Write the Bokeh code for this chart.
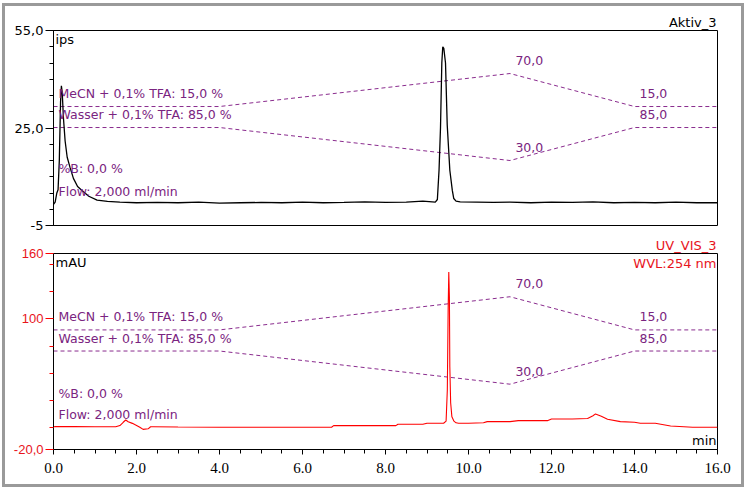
from bokeh.plotting import figure
from bokeh.models import Range1d, FixedTicker, Label, NumeralTickFormatter, Title
from bokeh.layouts import column
from bokeh.embed import file_html
from bokeh.resources import INLINE

# ---------------- data ----------------
# Top trace (Aktiv_3, ips)
t_top = [0.0, 0.04, 0.08, 0.11, 0.14, 0.17, 0.19, 0.21, 0.24, 0.28, 0.33, 0.40, 0.48,
         0.58, 0.70, 0.85, 1.05, 1.3, 1.6, 2.0, 2.5, 3.0, 3.5, 4.0, 4.5, 5.0, 5.5, 6.0,
         6.5, 7.0, 7.5, 8.0, 8.5, 8.9, 9.2, 9.25, 9.29, 9.325, 9.357, 9.38, 9.405, 9.446,
         9.487, 9.55, 9.61, 9.645, 9.70, 9.8, 10.2, 10.6, 11.0, 11.5, 12.0, 12.5, 13.0,
         13.5, 14.0, 14.5, 15.0, 15.5, 16.0]
v_top = [1.5, 2.2, 5.0, 6.0, 15.0, 33.0, 38.0, 36.0, 28.0, 21.0, 16.0, 12.8, 9.5,
         7.0, 5.6, 4.0, 2.8, 2.4, 2.2, 2.0, 2.1, 2.0, 2.2, 1.9, 2.0, 2.1, 2.0, 2.2,
         2.0, 2.1, 2.3, 2.1, 2.2, 2.5, 2.2, 3.0, 12.0, 25.0, 45.0, 50.0, 49.5, 45.0,
         26.0, 12.0, 5.8, 3.3, 2.5, 2.3, 2.2, 2.1, 2.2, 2.0, 2.2, 2.1, 2.3,
         2.0, 2.1, 2.0, 2.2, 2.0, 2.0]

# Bottom trace (UV_VIS_3, mAU)
t_uv = [0.0, 0.05, 0.5, 1.0, 1.5, 1.6, 1.68, 1.74, 1.8, 1.9, 1.98, 2.08, 2.16, 2.28,
        2.34, 2.4, 3.0, 4.0, 4.75, 5.5, 6.7, 6.75, 7.5, 8.25, 8.3, 8.9, 9.0, 9.4, 9.46,
        9.49, 9.51, 9.525, 9.54, 9.55, 9.57, 9.60, 9.65, 9.70, 9.76, 10.0, 10.36, 10.45,
        11.0, 11.2, 11.9, 12.0, 12.5, 12.87, 13.0, 13.06, 13.2, 13.35, 13.66, 14.0,
        14.14, 14.5, 14.87, 15.4, 16.0]
v_uv = [0.9, 1.0, 1.0, 0.9, 0.9, 2.0, 5.0, 7.1, 5.5, 4.0, 2.5, 0.5, -1.5, -1.0,
        0.9, 0.9, 0.6, 0.5, 0.4, 0.4, 0.4, 1.9, 1.9, 1.9, 3.2, 3.2, 4.1, 4.1, 6.0,
        35.0, 110.0, 143.0, 120.0, 56.0, 23.0, 10.0, 6.0, 4.5, 4.1, 4.1, 4.6, 5.6,
        5.6, 6.5, 6.5, 8.0, 8.0, 8.5, 11.0, 12.7, 10.5, 7.8, 5.6, 5.0,
        4.1, 4.1, 1.6, 0.4, 0.4]

# Gradient program (%)
t_grad = [0.0, 4.0, 11.0, 14.0, 16.0]
mecn = [15.0, 15.0, 70.0, 15.0, 15.0]
wasser = [85.0, 85.0, 30.0, 85.0, 85.0]

x_ticks = [0, 2, 4, 6, 8, 10, 12, 14, 16]
x_minor = [i * 0.5 for i in range(33)]
top_ticks = [-5, 25, 55]
top_minor = [-5, 0, 5, 10, 15, 20, 25, 30, 35, 40, 45, 50, 55]
top_labels = {-5: "-5", 25: "25,0", 55: "55,0"}
uv_ticks = [-20, 100, 160]
uv_minor = [0, 25, 50, 75, 125, 150]
uv_labels = {-20: "-20,0", 100: "100", 160: "160"}

PURPLE = "#8a2c8e"
PTEXT = "#7a2480"
RED = "#ff0000"
RTEXT = "#e8141c"
SANS = "DejaVu Sans"
W = 736


def gradient(p, y_texts):
    p.extra_y_ranges = {"mecn": Range1d(-183.3, 141.7), "wasser": Range1d(-78.3, 246.7)}
    p.line(t_grad, mecn, y_range_name="mecn", line_color=PURPLE, line_dash="4 3", line_width=1)
    p.line(t_grad, wasser, y_range_name="wasser", line_color=PURPLE, line_dash="4 3", line_width=1)
    for x, y, rng, txt in [(11.13, 70, "mecn", "70,0"), (11.13, 30, "wasser", "30,0"),
                           (14.12, 15, "mecn", "15,0"), (14.12, 85, "wasser", "85,0")]:
        p.add_layout(Label(x=x, y=y, y_range_name=rng, text=txt, y_offset=13,
                           text_baseline="middle", text_font=SANS, text_font_size="12.5px",
                           text_color=PTEXT))
    texts = ["MeCN + 0,1% TFA: 15,0 %", "Wasser + 0,1% TFA: 85,0 %", "%B: 0,0 %",
             "Flow: 2,000 ml/min"]
    for txt, y in zip(texts, y_texts):
        p.add_layout(Label(x=0.12, y=y, text=txt, text_baseline="middle", text_font=SANS,
                           text_font_size="12.5px", text_color=PTEXT))


def style_common(p):
    p.grid.visible = False
    p.outline_line_color = "black"
    p.outline_line_width = 1
    p.background_fill_color = "white"
    p.border_fill_color = "white"


# ---------------- top panel ----------------
p1 = figure(width=W, height=227, x_range=Range1d(0, 16), y_range=Range1d(-5, 55),
            output_backend="svg", toolbar_location=None, x_axis_location=None,
            title=None,
            min_border_left=48, min_border_right=24, min_border_top=24, min_border_bottom=8)
p1.add_layout(Title(text="Aktiv_3", align="right", text_font=SANS, text_font_size="13px",
                    text_font_style="normal", text_color="black", standoff=2, offset=1),
              "above")
style_common(p1)
ya = p1.yaxis[0]
ya.ticker = FixedTicker(ticks=top_ticks, minor_ticks=top_minor)
ya.major_label_overrides = top_labels
ya.major_tick_out = 8
ya.major_tick_in = 0
ya.minor_tick_out = 4
ya.minor_tick_in = 0
ya.major_label_standoff = 2
ya.major_label_text_font = SANS
ya.major_label_text_font_size = "13px"
ya.major_label_text_color = "black"
ya.axis_line_color = "black"

gradient(p1, [35.6, 29.2, 12.5, 5.5])
p1.line(t_top, v_top, line_color="black", line_width=1.3)

p1.add_layout(Label(x=0, y=55, x_offset=2, y_offset=-1, text="ips", text_align="left",
                    text_baseline="top", text_font=SANS, text_font_size="13px",
                    text_color="black"))

# ---------------- bottom panel ----------------
p2 = figure(width=W, height=251, x_range=p1.x_range, y_range=Range1d(-20, 160),
            output_backend="svg", toolbar_location=None, title=None,
            min_border_left=48, min_border_right=24, min_border_top=20, min_border_bottom=35)
p2.add_layout(Title(text="UV_VIS_3", align="right", text_font=SANS, text_font_size="13px",
                    text_font_style="normal", text_color=RTEXT, standoff=2, offset=1),
              "above")
style_common(p2)
yb = p2.yaxis[0]
yb.ticker = FixedTicker(ticks=uv_ticks, minor_ticks=uv_minor)
yb.major_label_overrides = uv_labels
yb.major_tick_out = 8
yb.major_tick_in = 0
yb.minor_tick_out = 4
yb.minor_tick_in = 0
yb.major_label_standoff = 2
yb.major_label_text_font = "Liberation Sans"
yb.major_label_text_font_size = "13px"
yb.major_label_text_color = RTEXT
yb.major_tick_line_color = RED
yb.minor_tick_line_color = RED
yb.axis_line_color = "black"

xb = p2.xaxis[0]
xb.ticker = FixedTicker(ticks=x_ticks, minor_ticks=x_minor)
xb.formatter = NumeralTickFormatter(format="0.0")
xb.major_tick_out = 5
xb.major_tick_in = 0
xb.minor_tick_out = 4
xb.minor_tick_in = 0
xb.major_label_standoff = 8
xb.major_label_text_font = "Liberation Serif"
xb.major_label_text_font_size = "15px"
xb.major_label_text_color = "black"

gradient(p2, [102.1, 82.2, 31.7, 12.1])
p2.line(t_uv, v_uv, line_color=RED, line_width=1.1)

p2.add_layout(Label(x=16, y=160, x_offset=-1, y_offset=-2, text="WVL:254 nm", text_align="right",
                    text_baseline="top", text_font=SANS, text_font_size="13px",
                    text_color=RTEXT))
p2.add_layout(Label(x=0, y=160, x_offset=2, y_offset=-1, text="mAU", text_align="left",
                    text_baseline="top", text_font=SANS, text_font_size="13px",
                    text_color="black"))
p2.add_layout(Label(x=16, y=-20, x_offset=-1, y_offset=2, text="min", text_align="right",
                    text_baseline="bottom", text_font=SANS, text_font_size="13px",
                    text_color="black"))

layout = column(p1, p2, spacing=0,
                styles={"border": "3px solid #9a9a9a", "margin-left": "2px",
                        "margin-top": "3px"})

open("out.html", "w").write(file_html(layout, INLINE))
